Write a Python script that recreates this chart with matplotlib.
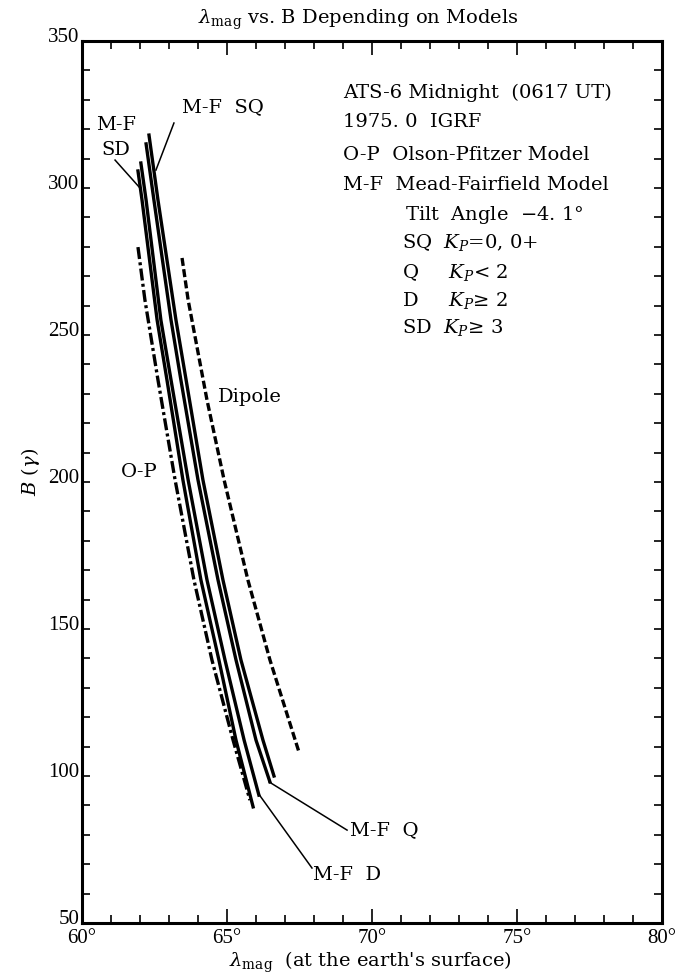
import numpy as np
import matplotlib
matplotlib.use("Agg")
import matplotlib.pyplot as plt
from matplotlib.ticker import MultipleLocator
from matplotlib.transforms import ScaledTranslation

plt.rcParams['font.family'] = ['DejaVu Serif']
plt.rcParams['mathtext.fontset'] = 'dejavuserif'

# curves: lambda_mag (deg) vs B (gamma)
sq_lam = [62.31, 62.62, 63.24, 63.59, 64.17, 64.86, 65.48, 66.24, 66.62]
sq_b = [318.0, 295.9, 255.1, 234.7, 200.7, 166.7, 139.5, 112.2, 100.0]

q_lam = [62.21, 62.48, 63.07, 63.41, 64.00, 64.69, 65.31, 66.00, 66.48]
q_b = [315.0, 295.9, 255.1, 234.7, 200.7, 166.7, 139.5, 112.2, 98.0]

d_lam = [62.03, 62.21, 62.72, 63.07, 63.66, 64.31, 64.93, 65.59, 66.10]
d_b = [308.5, 295.9, 255.1, 234.7, 200.7, 166.7, 139.5, 112.2, 93.5]

sd_lam = [61.93, 62.07, 62.59, 62.93, 63.48, 64.10, 64.72, 65.31, 65.90]
sd_b = [305.8, 295.9, 255.1, 234.7, 200.7, 166.7, 139.5, 112.2, 89.5]

op_lam = [61.93, 62.17, 62.62, 63.21, 63.86, 64.48, 65.21, 65.79]
op_b = [279.9, 261.9, 234.7, 200.7, 166.7, 139.5, 112.2, 91.8]

dip_lam = [63.45, 63.66, 64.31, 64.90, 65.72, 66.48, 67.48]
dip_b = [276.2, 261.9, 227.9, 200.7, 166.7, 139.5, 108.2]

xticks = [60, 65, 70, 75, 80]
yticks = [50, 100, 150, 200, 250, 300, 350]

legend_lines = [
    (69.0, 332.3, "ATS-6 Midnight  (0617 UT)"),
    (69.0, 322.4, "1975. 0  IGRF"),
    (69.0, 311.2, "O-P  Olson-Pfitzer Model"),
    (69.0, 301.0, "M-F  Mead-Fairfield Model"),
    (71.14, 290.8, "Tilt  Angle  $-$4. 1°"),
    (71.03, 281.3, "SQ  $K_P$=0, 0+"),
    (71.03, 271.4, "Q     $K_P$< 2"),
    (71.03, 261.9, "D     $K_P$≥ 2"),
    (71.03, 252.4, "SD  $K_P$≥ 3"),
]

fig = plt.figure(figsize=(6.78, 9.73), dpi=100)
ax = fig.add_axes([82 / 678, 1 - 923 / 973, 580 / 678, 882 / 973])

lw = 2.4
ax.plot(sq_lam, sq_b, color='black', lw=lw)
ax.plot(q_lam, q_b, color='black', lw=lw)
ax.plot(d_lam, d_b, color='black', lw=lw)
ax.plot(sd_lam, sd_b, color='black', lw=lw)
ax.plot(op_lam, op_b, color='black', lw=lw, dashes=(3.6, 1.0, 0.9, 1.0))
ax.plot(dip_lam, dip_b, color='black', lw=lw, dashes=(2.4, 1.0))

ax.set_xlim(60, 80)
ax.set_ylim(50, 350)
ax.xaxis.set_minor_locator(MultipleLocator(1))
ax.yaxis.set_minor_locator(MultipleLocator(10))
ax.tick_params(which='both', direction='in', top=True, right=True, width=1.2)
ax.tick_params(which='major', length=10)
ax.tick_params(which='minor', length=6)
ax.tick_params(axis='y', which='major', length=6, pad=2)
ax.tick_params(axis='x', which='major', pad=4)
ax.set_xticks(xticks)
ax.set_xticklabels([f"{t}°" for t in xticks], fontfamily='Liberation Serif', fontsize=15)
ax.set_yticks(yticks)
ax.set_yticklabels([str(t) for t in yticks], fontfamily='Liberation Serif', fontsize=15)
# y labels sit a little above their ticks
for lab in ax.get_yticklabels():
    lab.set_transform(lab.get_transform() + ScaledTranslation(0, 6 / 100, fig.dpi_scale_trans))
for sp in ax.spines.values():
    sp.set_linewidth(2.2)

ts = 14
# curve labels and pointers
ax.text(64.86, 327.6, "M-F  SQ", fontsize=ts, ha='center', va='center')
ax.plot([63.17, 62.55], [322.1, 306.1], color='black', lw=1.1)
ax.text(61.17, 321.4, "M-F", fontsize=ts, ha='center', va='center')
ax.text(61.17, 312.9, "SD", fontsize=ts, ha='center', va='center')
ax.plot([61.14, 62.00], [309.5, 300.0], color='black', lw=1.1)
ax.text(65.79, 228.9, "Dipole", fontsize=ts, ha='center', va='center')
ax.text(61.97, 203.4, "O-P", fontsize=ts, ha='center', va='center')
ax.text(69.24, 81.6, "M-F  Q", fontsize=ts, ha='left', va='center')
ax.plot([69.14, 66.45], [81.6, 98.0], color='black', lw=1.1)
ax.text(67.97, 66.3, "M-F  D", fontsize=ts, ha='left', va='center')
ax.plot([67.93, 66.07], [68.7, 94.2], color='black', lw=1.1)

for lx, ly, s in legend_lines:
    ax.text(lx, ly, s, fontsize=ts, ha='left', va='center')

fig.text(358 / 678, 1 - 20 / 973, r"$\lambda_{\mathrm{mag}}$ vs. B Depending on Models",
         fontsize=14, ha='center', va='center')
fig.text(370 / 678, 1 - 962 / 973, r"$\lambda_{\mathrm{mag}}$  (at the earth's surface)",
         fontsize=14, ha='center', va='center')
fig.text(30 / 678, 1 - 472 / 973, r"$B$ ($\gamma$)", fontsize=14, rotation=90,
         ha='center', va='center')

fig.savefig("out.png", dpi=100)
